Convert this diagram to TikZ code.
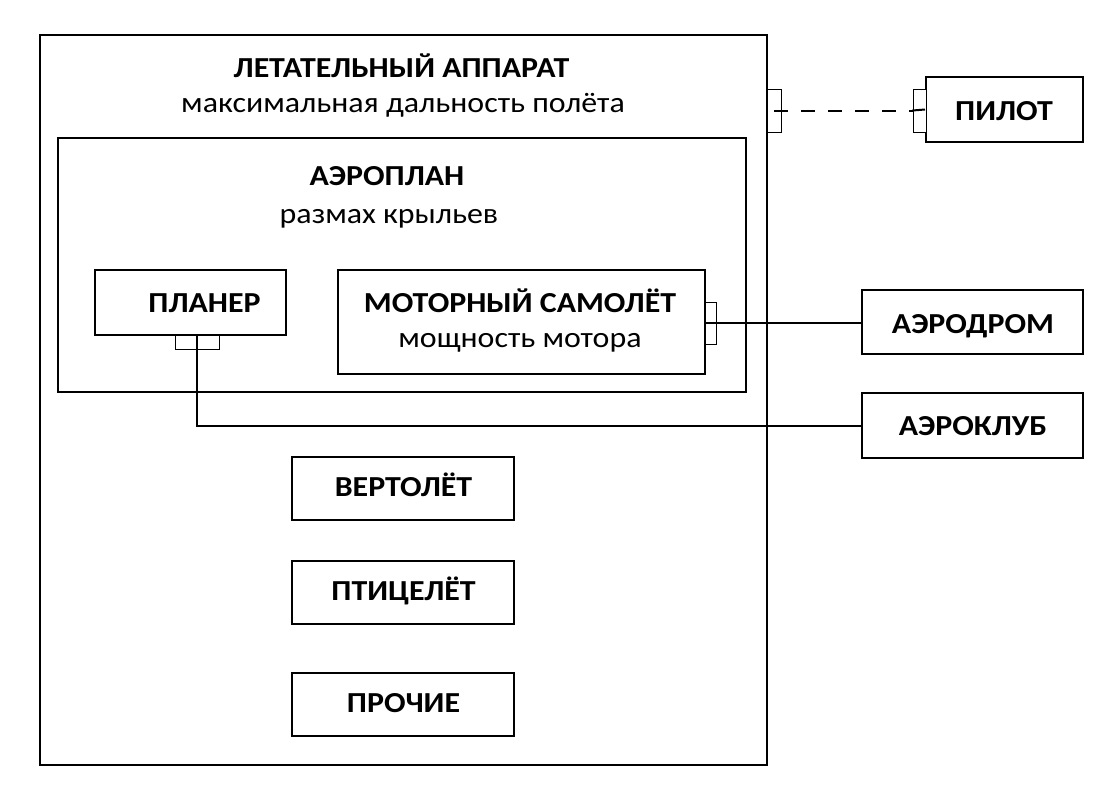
\documentclass[tikz,border=0pt]{standalone}
\usepackage{fontspec}
\setmainfont{Carlito}[FakeStretch=1.1]
\begin{document}
\begin{tikzpicture}[x=1pt,y=-1pt,
  box/.style={draw,line width=2pt,rectangle,inner sep=0pt},
  port/.style={draw,line width=1pt,rectangle,inner sep=0pt,fill=white},
  ttl/.style={font=\fontsize{29}{35}\selectfont\bfseries,inner sep=0pt,anchor=base},
  sub/.style={font=\fontsize{29}{35}\selectfont,inner sep=0pt,anchor=base},
  conn/.style={line width=2pt}]
\useasboundingbox (0,0) rectangle (1119,795);
% boxes
\node[box,minimum width=727,minimum height=730] (outer) at (403.5,400) {};
\node[box,minimum width=688,minimum height=254] (aero) at (402,265) {};
\node[box,minimum width=191,minimum height=65] (planer) at (190.5,302.5) {};
\node[box,minimum width=367,minimum height=104] (motor) at (521.5,322) {};
\node[box,minimum width=157,minimum height=65] (pilot) at (1004.5,109.5) {};
\node[box,minimum width=221,minimum height=64] (aerodrom) at (972.5,322) {};
\node[box,minimum width=221,minimum height=65] (aeroklub) at (972.5,425.5) {};
\node[box,minimum width=222,minimum height=63] (vert) at (403,488.5) {};
\node[box,minimum width=222,minimum height=63] (ptic) at (403,592.5) {};
\node[box,minimum width=222,minimum height=63] (proch) at (403,704.5) {};
% texts
\node[ttl] (t1) at (401.5,77) {ЛЕТАТЕЛЬНЫЙ АППАРАТ};
\node[sub] (s1) at (403,112) {максимальная дальность полёта};
\node[ttl] (t2) at (387,185) {АЭРОПЛАН};
\node[sub] (s2) at (389,223) {размах крыльев};
\node[ttl] (t3) at (204.5,312) {ПЛАНЕР};
\node[ttl] (t4) at (520,312) {МОТОРНЫЙ САМОЛЁТ};
\node[sub] (s4) at (520,347) {мощность мотора};
\node[ttl] (t5) at (1004,120) {ПИЛОТ};
\node[ttl] (t6) at (973,333) {АЭРОДРОМ};
\node[ttl] (t7) at (973,435) {АЭРОКЛУБ};
\node[ttl] (t8) at (403.5,496) {ВЕРТОЛЁТ};
\node[ttl] (t9) at (403.5,600) {ПТИЦЕЛЁТ};
\node[ttl] (t10) at (403.5,712) {ПРОЧИЕ};
% ports
\node[port,minimum width=14,minimum height=43] (outport) at (774,110.5) {};
\node[port,minimum width=13,minimum height=43] (pilotport) at (919.5,110.5) {};
\node[port,minimum width=11,minimum height=42] (motorport) at (710.5,323) {};
\node[port,minimum width=44,minimum height=14] (planerport) at (197,342) {};
% connectors
\draw[conn,dash pattern=on 14pt off 13pt] (outport.center) -- (pilotport.west);
\draw[conn] (pilotport.west) -- (pilot.west);
\draw[conn] (motorport.west) -- (motorport.west -| aerodrom.west);
\draw[conn] (planerport.north) -- (planerport.north |- aeroklub.west) -- (aeroklub.west);
\end{tikzpicture}
\end{document}
